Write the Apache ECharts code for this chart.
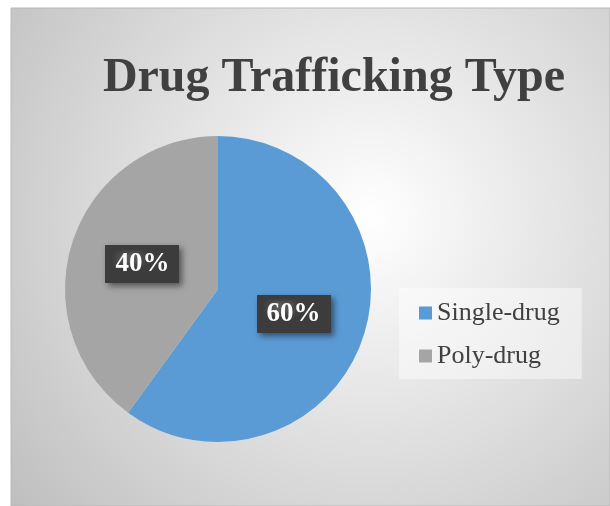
<!DOCTYPE html>
<html><head><meta charset="utf-8">
<script src="https://cdn.jsdelivr.net/npm/echarts@6/dist/echarts.min.js"></script>
<style>html,body{margin:0;padding:0;background:#fff}#c{width:610px;height:506px}</style>
</head><body><div id="c"></div>
<script>
const titleText = 'Drug Trafficking Type';
const categories = ['Single-drug', 'Poly-drug'];
const values = [60, 40];
const colors = ['#5B9BD5', '#A5A5A5'];

const chart = echarts.init(document.getElementById('c'), null, {renderer: 'canvas'});
const serif = "'Liberation Serif', 'Times New Roman', serif";

function makePattern() {
  const c = document.createElement('canvas');
  c.width = 6; c.height = 6;
  const g = c.getContext('2d');
  g.fillStyle = '#3c3c3c'; g.fillRect(0, 0, 6, 6);
  g.fillStyle = '#575757'; g.fillRect(1, 1, 2, 2);
  return c;
}
const pat = makePattern();

chart.setOption({
  animation: false,
  graphic: [{
    type: 'rect', z: -10, silent: true,
    shape: {x: 11, y: 8, width: 599, height: 498},
    style: {
      fill: new echarts.graphic.RadialGradient(0.6, 0.42, 0.95, [
        {offset: 0, color: '#ffffff'},
        {offset: 1, color: '#bdbdbd'}
      ]),
      stroke: '#b8b8b8', lineWidth: 1
    }
  }],
  title: {
    text: titleText,
    left: 329, top: 50, textAlign: 'center',
    textStyle: {fontFamily: serif, fontWeight: 'bold', fontSize: 48, color: '#404040'}
  },
  legend: {
    orient: 'vertical',
    left: 399, top: 288,
    padding: [12, 22, 10, 20],
    backgroundColor: 'rgba(255,255,255,0.45)',
    itemWidth: 13, itemHeight: 13, itemGap: 17,
    icon: 'rect',
    textStyle: {fontFamily: serif, fontSize: 26, color: '#404040'},
    data: categories
  },
  series: [{
    type: 'pie',
    center: [218, 289],
    radius: 153,
    startAngle: 90,
    clockwise: true,
    silent: true,
    itemStyle: {borderWidth: 0},
    label: {
      show: true, position: 'inside',
      formatter: '{d}%',
      fontFamily: serif, fontWeight: 'bold', fontSize: 27, color: '#ffffff',
      backgroundColor: {image: pat, repeat: 'repeat'},
      padding: [6, 10, 5, 10],
      shadowColor: 'rgba(0,0,0,0.5)', shadowBlur: 6, shadowOffsetX: 3, shadowOffsetY: 3
    },
    labelLine: {show: false},
    data: categories.map((n, i) => ({name: n, value: values[i], itemStyle: {color: colors[i]}}))
  }]
});
</script></body></html>
